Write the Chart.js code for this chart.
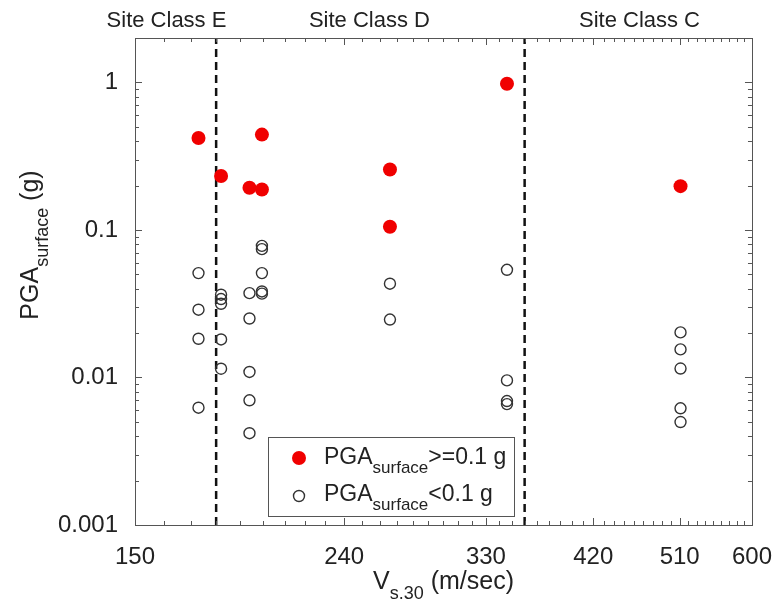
<!DOCTYPE html>
<html>
<head>
<meta charset="utf-8">
<script src="https://cdn.jsdelivr.net/npm/chart.js@4.4.1/dist/chart.umd.min.js"></script>
<style>
  body { margin: 0; background: #fff; }
  #wrap { width: 782px; height: 609px; }
</style>
</head>
<body>
<div id="wrap"><canvas id="mychart" width="782" height="609"></canvas></div>
<script>
// data (Vs30 in m/sec, PGA in g)
const redX = [173, 182, 194, 199.5, 199.5, 266, 266, 346, 511];
const redY = [0.42, 0.232, 0.193, 0.443, 0.188, 0.257, 0.105, 0.98, 0.198];

const openX = [173, 173, 173, 173,
    182, 182, 182, 182, 182,
    194, 194, 194, 194, 194,
    199.5, 199.5, 199.5, 199.5, 199.5,
    266, 266,
    346, 346, 346, 346,
    511, 511, 511, 511, 511];
const openY = [0.051, 0.0288, 0.0183, 0.00624,
    0.0364, 0.034, 0.0316, 0.0181, 0.01146,
    0.0373, 0.0251, 0.0109, 0.0070, 0.00419,
    0.078, 0.0741, 0.051, 0.0383, 0.037,
    0.0432, 0.0247,
    0.0537, 0.00955, 0.00692, 0.0066,
    0.0202, 0.0155, 0.0115, 0.00618, 0.00499];

const classBounds = [180, 360];
const classLabels = ['Site Class E', 'Site Class D', 'Site Class C'];
const classLabelX = [161, 254, 466];

const xTickVals = [150, 240, 330, 420, 510, 600];
const xTickLabels = ['150', '240', '330', '420', '510', '600'];
const yTickVals = [0.001, 0.01, 0.1, 1];
const yTickLabels = ['0.001', '0.01', '0.1', '1'];
const xRange = [150, 600];
const yRange = [0.001, 2];

const FONT = '"Liberation Sans", Arial, Helvetica, sans-serif';
const TXT = '#222';
const RED = 'rgb(240,0,0)';

const toPoints = (xs, ys) => xs.map((x, i) => ({ x: x, y: ys[i] }));

const partsWidth = (ctx, parts) => {
    let w = 0;
    parts.forEach(p => { ctx.font = p[1] + 'px ' + FONT; w += ctx.measureText(p[0]).width; });
    return w;
}

// text with a subscript part: parts = [[text, size, dy], ...], centred on x
const drawParts = (ctx, parts, x, y) => {
    let cx = x - partsWidth(ctx, parts) / 2;
    ctx.textAlign = 'left';
    ctx.textBaseline = 'alphabetic';
    parts.forEach(p => {
        ctx.font = p[1] + 'px ' + FONT;
        ctx.fillText(p[0], cx, y + p[2]);
        cx += ctx.measureText(p[0]).width;
    });
}

const figPlugin = {
    id: 'fig',
    afterDraw(chart) {
        const ctx = chart.ctx;
        const a = chart.chartArea;
        const sx = chart.scales.x, sy = chart.scales.y;
        ctx.save();

        // box
        ctx.strokeStyle = '#555';
        ctx.lineWidth = 1;
        ctx.strokeRect(Math.round(a.left) + 0.5, Math.round(a.top) + 0.5,
            Math.round(a.right - a.left), Math.round(a.bottom - a.top));

        // minor + major ticks, inside, on all sides
        ctx.beginPath();
        for (let v = xRange[0]; v <= xRange[1]; v += 10) {
            const px = Math.round(sx.getPixelForValue(v)) + 0.5;
            const len = xTickVals.includes(v) ? 7 : 4;
            ctx.moveTo(px, a.bottom); ctx.lineTo(px, a.bottom - len);
            ctx.moveTo(px, a.top); ctx.lineTo(px, a.top + len);
        }
        yTickVals.forEach(dec => {
            for (let m = 1; m <= 9; m++) {
                const v = m * dec;
                if (v > yRange[1]) break;
                const py = Math.round(sy.getPixelForValue(v)) + 0.5;
                const len = m === 1 ? 7 : 4;
                ctx.moveTo(a.left, py); ctx.lineTo(a.left + len, py);
                ctx.moveTo(a.right, py); ctx.lineTo(a.right - len, py);
            }
        });
        ctx.stroke();

        // site class labels
        ctx.fillStyle = TXT;
        ctx.font = '22px ' + FONT;
        ctx.textAlign = 'center';
        ctx.textBaseline = 'middle';
        classLabels.forEach((t, i) => ctx.fillText(t, sx.getPixelForValue(classLabelX[i]), 21));

        // axis titles
        drawParts(ctx, [['V', 25, 0], ['s.30', 18, 10], [' (m/sec)', 25, 0]], (a.left + a.right) / 2, 589);
        ctx.save();
        ctx.translate(38, 245);
        ctx.rotate(-Math.PI / 2);
        drawParts(ctx, [['PGA', 25, 0], ['surface', 18, 10], [' (g)', 25, 0]], 0, 0);
        ctx.restore();

        // legend
        const lx = 268.5, ly = 437.5, lw = 246, lh = 79;
        ctx.fillStyle = '#fff';
        ctx.fillRect(lx, ly, lw, lh);
        ctx.strokeStyle = '#555';
        ctx.lineWidth = 1;
        ctx.strokeRect(lx, ly, lw, lh);
        ctx.fillStyle = RED;
        ctx.beginPath(); ctx.arc(299, 458, 7, 0, Math.PI * 2); ctx.fill();
        ctx.strokeStyle = '#333';
        ctx.lineWidth = 1.4;
        ctx.beginPath(); ctx.arc(299, 496, 5.5, 0, Math.PI * 2); ctx.stroke();
        ctx.fillStyle = TXT;
        const rows = [['>=0.1 g', 464], ['<0.1 g', 501]];
        rows.forEach(r => {
            const parts = [['PGA', 23, 0], ['surface', 17, 9], [r[0], 23, 0]];
            drawParts(ctx, parts, 324 + partsWidth(ctx, parts) / 2, r[1]);
        });

        ctx.restore();
    }
}

const config = {
    type: 'scatter',
    data: {
        datasets: [{
            label: 'PGA surface >= 0.1 g',
            data: toPoints(redX, redY),
            backgroundColor: RED,
            borderColor: RED,
            pointRadius: 7,
            borderWidth: 0,
            order: 1
        }, {
            label: 'PGA surface < 0.1 g',
            data: toPoints(openX, openY),
            backgroundColor: 'rgba(0,0,0,0)',
            borderColor: '#333',
            pointRadius: 5.5,
            borderWidth: 1.4,
            order: 1
        }, {
            type: 'line',
            label: 'E/D',
            data: [{ x: classBounds[0], y: yRange[0] }, { x: classBounds[0], y: yRange[1] }],
            borderColor: '#111',
            borderWidth: 2.5,
            borderDash: [8, 5],
            pointRadius: 0,
            order: 3
        }, {
            type: 'line',
            label: 'D/C',
            data: [{ x: classBounds[1], y: yRange[0] }, { x: classBounds[1], y: yRange[1] }],
            borderColor: '#111',
            borderWidth: 2.5,
            borderDash: [8, 5],
            pointRadius: 0,
            order: 3
        }]
    },
    options: {
        responsive: false,
        animation: false,
        layout: { padding: { left: 0, right: 24, top: 38, bottom: 0 } },
        plugins: { legend: { display: false }, tooltip: { enabled: false } },
        scales: {
            x: {
                type: 'logarithmic',
                min: xRange[0],
                max: xRange[1],
                grid: { display: false },
                border: { display: false },
                afterBuildTicks: (s) => { s.ticks = xTickVals.map(v => ({ value: v })) },
                afterFit: (s) => { s.height = 84 },
                ticks: {
                    autoSkip: false,
                    maxRotation: 0,
                    padding: 10,
                    color: TXT,
                    font: { family: FONT, size: 24 },
                    callback: (v, i) => xTickLabels[i]
                }
            },
            y: {
                type: 'logarithmic',
                min: yRange[0],
                max: yRange[1],
                grid: { display: false },
                border: { display: false },
                afterBuildTicks: (s) => { s.ticks = yTickVals.map(v => ({ value: v })) },
                afterFit: (s) => { s.width = 135 },
                ticks: {
                    autoSkip: false,
                    padding: 9,
                    color: TXT,
                    font: { family: FONT, size: 24 },
                    callback: (v, i) => yTickLabels[i]
                }
            }
        }
    },
    plugins: [figPlugin]
}

const myChart = new Chart(document.querySelector('#mychart'), config);
</script>
</body>
</html>
